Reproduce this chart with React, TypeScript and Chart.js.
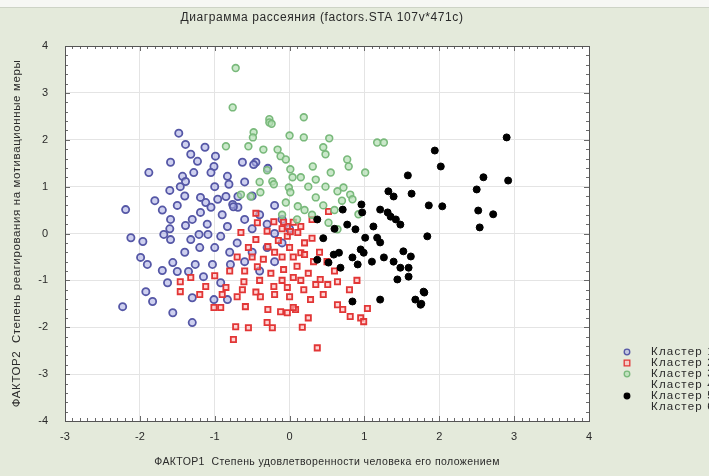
import React, { useEffect, useRef } from "react";
import { Chart, registerables } from "chart.js";

Chart.register(...registerables);

const TITLE = "Диаграмма рассеяния (factors.STA 107v*471c)";
const X_TITLE = "ФАКТОР1  Степень удовлетворенности человека его положением";
const Y_TITLE = "ФАКТОР2  Степень реагирования на мотивационные меры";
const CLUSTER_LABELS = ["Кластер 1", "Кластер 2", "Кластер 3", "Кластер 4", "Кластер 5", "Кластер 6"];
const X_TICKS = [-3, -2, -1, 0, 1, 2, 3, 4];
const Y_TICKS = [-4, -3, -2, -1, 0, 1, 2, 3, 4];

type P = [number, number];

const cluster1: P[] = [
  [-1.48, 2.14], [-1.39, 1.9], [-1.13, 1.84], [-1.32, 1.69], [-1.23, 1.54], [-1.59, 1.52], [-0.99, 1.65],
  [-1.01, 1.43], [-1.05, 1.3], [-1.88, 1.3], [-1.28, 1.3], [-1.43, 1.22], [-1.39, 1.11], [-1.46, 1.0],
  [-0.83, 1.22], [-0.81, 1.05], [-1.6, 0.92], [-0.63, 1.52], [-0.45, 1.52], [-1.19, 0.77], [-1.12, 0.66],
  [-0.96, 0.73], [-1.05, 0.56], [-1.19, 0.45], [-2.19, 0.51], [-1.59, 0.3], [-1.39, 0.17], [-0.69, 0.56],
  [-0.76, 0.62], [-2.12, -0.09], [-1.96, -0.17], [-1.68, -0.02], [-1.59, -0.13], [-1.32, -0.13], [-1.21, -0.02],
  [-1.09, -0.02], [-0.92, -0.06], [-0.83, 0.15], [-1.99, -0.51], [-1.9, -0.66], [-1.7, -0.79], [-1.56, -0.62],
  [-1.5, -0.81], [-1.35, -0.81], [-1.26, -0.66], [-1.15, -0.92], [-1.03, -0.66], [-1.63, -1.05], [-1.92, -1.24],
  [-1.83, -1.45], [-2.23, -1.56], [-1.56, -1.69], [-1.3, -1.37], [-1.3, -1.9], [-0.79, -0.66], [-0.92, -1.05],
  [-0.83, -1.41], [-1.01, -1.41], [-0.48, 1.47], [-0.29, 1.39], [-0.85, 0.79], [-0.69, 0.79], [-0.75, 0.57],
  [-0.6, 0.3], [-0.5, 0.1], [-0.4, 0.4], [-0.3, 0.2], [-0.7, -0.2], [-0.5, -0.4], [-0.3, -0.3], [-0.2, 0.0],
  [-0.1, 0.3], [-0.8, -0.4], [-0.6, -0.6], [-0.4, -0.8], [-0.2, -0.6], [-1.1, 0.2], [-1.3, 0.3], [-1.5, 0.6],
  [-1.7, 0.5], [-1.2, -0.3], [-1.4, -0.4], [-1.0, -0.3], [-0.9, 0.4], [-1.6, 0.1], [-1.8, 0.7], [-1.4, 0.8],
  [-1.0, 1.0], [-0.6, 1.1], [-0.5, 0.8], [-0.2, 0.6], [-0.1, -0.2], [0.0, 0.1],
];

const cluster2: P[] = [
  [0.37, -2.44], [0.17, -2.0], [-0.03, -1.69], [0.08, -1.62], [0.64, -1.52], [0.71, -1.62], [0.81, -1.77],
  [0.95, -1.8], [0.99, -1.88], [1.04, -1.6], [0.64, -1.03], [0.41, -0.98], [0.35, -1.09], [0.19, -1.2],
  [0.28, -1.41], [0.51, -1.09], [0.32, -0.6], [0.05, -0.94], [0.15, -0.41], [-0.08, -0.77], [0.11, 0.02],
  [-0.03, 0.15], [-1.46, -1.03], [-1.46, -1.24], [-1.32, -0.94], [-1.12, -1.13], [-1.01, -1.58], [-0.92, -1.58],
  [-0.85, -1.15], [-0.61, -1.03], [-0.63, -1.2], [-0.59, -1.56], [-0.72, -1.99], [-0.55, -2.01], [-0.75, -2.26],
  [-0.23, -2.01], [-0.39, -1.35], [-0.29, -1.62], [-0.12, -1.67], [-0.43, -0.71], [-0.21, -1.13], [-0.03, -1.15],
  [0.05, -1.58], [-0.45, -0.13], [-0.29, -0.28], [-0.03, -0.06], [-0.65, 0.02], [-0.43, 0.23], [-0.21, 0.25],
  [0.52, 0.47], [-0.08, 0.24], [0.05, 0.24], [0.01, 0.04], [-0.45, 0.43],
  [-0.5, -0.5], [-0.35, -0.55], [-0.2, -0.4], [-0.1, -0.5], [0.0, -0.3], [0.2, -0.2], [0.3, -0.1], [-0.6, -0.8],
  [-0.4, -1.0], [-0.25, -0.85], [-0.1, -1.0], [0.1, -0.7], [0.25, -0.85], [0.4, -0.4], [0.5, -0.6], [-0.7, -0.5],
  [-0.8, -0.8], [-0.55, -0.3], [-0.15, -0.15], [0.05, -0.5], [0.2, -0.45], [-0.3, 0.05], [-0.1, 0.1], [0.15, 0.15],
  [0.3, 0.3], [-1.0, -0.9], [-0.9, -1.3], [-0.7, -1.35], [-0.45, -1.25], [-0.2, -1.3], [0.0, -1.35], [0.15, -1.0],
  [0.6, -0.8], [0.45, -1.3], [0.8, -1.2], [-1.2, -1.3], [-0.3, -1.9], [0.25, -1.8], [0.9, -1.0],
];

const cluster3: P[] = [
  [-0.72, 3.53], [-0.76, 2.69], [-0.27, 2.44], [-0.27, 2.37], [0.19, 2.48], [0.0, 2.09], [0.19, 2.05],
  [0.53, 2.03], [-0.85, 1.86], [-0.55, 1.86], [-0.48, 2.16], [-0.49, 2.05], [-0.35, 1.79], [-0.16, 1.79],
  [-0.12, 1.65], [-0.05, 1.58], [0.45, 1.84], [0.48, 1.69], [0.31, 1.43], [0.77, 1.58], [0.79, 1.43],
  [1.01, 1.3], [0.01, 1.37], [0.04, 1.2], [-0.23, 1.11], [-0.21, 1.05], [-0.01, 0.98], [0.01, 0.88],
  [0.48, 1.0], [0.64, 0.9], [0.72, 0.98], [0.81, 0.83], [0.84, 0.73], [0.35, 0.77], [-0.52, 0.79],
  [-0.39, 0.88], [-0.65, 0.83], [0.11, 0.58], [-0.05, 0.66], [1.17, 1.94], [1.26, 1.94], [0.92, 0.41],
  [0.52, 0.23], [0.64, 0.09], [-0.24, 2.34], [0.2, 0.5], [0.3, 0.4], [0.45, 0.6], [0.6, 0.5], [0.7, 0.7],
  [0.25, 1.0], [0.15, 1.2], [0.55, 1.3], [0.35, 1.15], [-0.3, 1.35], [-0.1, 0.4], [0.1, 0.3], [-0.4, 1.1],
];

const cluster4: P[] = [];

const cluster5: P[] = [
  [2.9, 2.05], [1.94, 1.77], [2.02, 1.43], [2.59, 1.2], [2.92, 1.13], [2.5, 0.94], [1.86, 0.6], [2.04, 0.58],
  [2.52, 0.49], [2.72, 0.41], [2.54, 0.13], [1.84, -0.06], [1.8, -1.26], [1.76, -1.5], [1.58, 1.24], [1.63, 0.85],
  [1.32, 0.9], [1.39, 0.79], [0.96, 0.62], [0.71, 0.51], [0.97, 0.45], [1.21, 0.51], [1.31, 0.45], [1.35, 0.36],
  [1.42, 0.3], [1.48, 0.19], [0.37, 0.3], [0.77, 0.19], [1.12, 0.15], [1.01, -0.09], [1.17, -0.09], [1.21, -0.19],
  [0.59, -0.45], [0.66, -0.41], [0.37, -0.56], [0.52, -0.62], [0.68, -0.73], [0.84, -0.51], [0.91, -0.66],
  [0.95, -0.34], [0.99, -0.41], [1.26, -0.51], [1.39, -0.6], [1.48, -0.73], [1.59, -0.73], [1.59, -0.92],
  [1.44, -0.98], [1.52, -0.38], [1.62, -0.49], [1.79, -1.24], [1.68, -1.41], [1.75, -1.52], [1.21, -1.41],
  [0.84, -1.45], [0.88, 0.09], [0.45, -0.1], [0.6, 0.1], [1.1, -0.6],
];

const cluster6: P[] = [];

const FONT = "'Liberation Sans', Arial, sans-serif";
const PANEL_BG = "#e4eadb";
const TEXT = "#2a2a2a";

const toXY = (pts: P[]) => pts.map(([x, y]) => ({ x, y }));

// Outer panel, plot frame with inward ticks, titles and legend
const decorations = {
  id: "decorations",
  beforeDraw(chart: any) {
    const { ctx, width, height, chartArea } = chart;
    ctx.save();
    ctx.fillStyle = PANEL_BG;
    ctx.fillRect(0, 0, width, height);
    ctx.fillStyle = "#f6f7f4";
    ctx.fillRect(0, 0, width, 7);
    ctx.fillStyle = "#cdd3c6";
    ctx.fillRect(0, 7, width, 1);
    ctx.fillStyle = "#ffffff";
    ctx.fillRect(chartArea.left, chartArea.top, chartArea.right - chartArea.left, chartArea.bottom - chartArea.top);
    ctx.restore();
  },
  beforeDatasetsDraw(chart: any) {
    const { ctx, chartArea, scales } = chart;
    const { left, right, top, bottom } = chartArea;
    ctx.save();
    ctx.strokeStyle = "#6a6a6a";
    ctx.lineWidth = 1;
    ctx.beginPath();
    for (let i = -30; i <= 40; i++) {
      const px = Math.round(scales.x.getPixelForValue(i / 10)) + 0.5;
      const len = i % 10 === 0 ? 5 : 3;
      ctx.moveTo(px, bottom);
      ctx.lineTo(px, bottom - len);
      ctx.moveTo(px, top);
      ctx.lineTo(px, top + len);
    }
    for (let i = -20; i <= 20; i++) {
      const py = Math.round(scales.y.getPixelForValue(i / 5)) + 0.5;
      const len = i % 5 === 0 ? 5 : 3;
      ctx.moveTo(left, py);
      ctx.lineTo(left + len, py);
      ctx.moveTo(right, py);
      ctx.lineTo(right - len, py);
    }
    ctx.stroke();
    ctx.strokeStyle = "#555555";
    ctx.strokeRect(Math.round(left) + 0.5, Math.round(top) + 0.5, Math.round(right - left), Math.round(bottom - top));
    ctx.restore();
  },
  afterDraw(chart: any) {
    const { ctx, chartArea } = chart;
    const cx = (chartArea.left + chartArea.right) / 2;
    const cy = (chartArea.top + chartArea.bottom) / 2;
    ctx.save();
    ctx.fillStyle = TEXT;
    ctx.textBaseline = "middle";
    ctx.textAlign = "center";

    ctx.font = `12px ${FONT}`;
    ctx.letterSpacing = "0.6px";
    ctx.fillText(TITLE, 322, 18);

    ctx.font = `10.5px ${FONT}`;
    ctx.letterSpacing = "0.4px";
    ctx.fillText(X_TITLE, cx, 462);

    ctx.save();
    ctx.translate(17, cy);
    ctx.rotate(-Math.PI / 2);
    ctx.font = `11.5px ${FONT}`;
    ctx.letterSpacing = "0.6px";
    ctx.fillText(Y_TITLE, 0, 0);
    ctx.restore();

    // legend
    ctx.textAlign = "left";
    ctx.font = `11.5px ${FONT}`;
    ctx.letterSpacing = "1.2px";
    const x0 = 627;
    const y0 = 352;
    chart.data.datasets.forEach((ds: any, i: number) => {
      const y = y0 + i * 11;
      const r = 2.8;
      if (ds.data.length) {
        ctx.lineWidth = 1.3;
        ctx.strokeStyle = ds.borderColor;
        ctx.fillStyle = ds.backgroundColor;
        ctx.beginPath();
        if (ds.pointStyle === "rect") {
          ctx.rect(x0 - r, y - r, r * 2, r * 2);
        } else {
          ctx.arc(x0, y, r, 0, Math.PI * 2);
        }
        ctx.fill();
        ctx.stroke();
      }
      ctx.fillStyle = TEXT;
      ctx.fillText(ds.label, 651, y);
    });
    ctx.restore();
  },
};

export default function App() {
  const canvasRef = useRef<HTMLCanvasElement | null>(null);

  useEffect(() => {
    if (!canvasRef.current) return;
    const chart = new Chart(canvasRef.current, {
      type: "scatter",
      data: {
        datasets: [
          {
            label: CLUSTER_LABELS[0],
            data: toXY(cluster1),
            pointStyle: "circle",
            pointRadius: 3.6,
            borderWidth: 1.8,
            borderColor: "#5557a6",
            backgroundColor: "rgba(165,170,225,0.55)",
            order: 5,
          },
          {
            label: CLUSTER_LABELS[1],
            data: toXY(cluster2),
            pointStyle: "rect",
            pointRadius: 3.7,
            borderWidth: 1.8,
            borderColor: "#e23636",
            backgroundColor: "rgba(255,185,185,0.6)",
            order: 4,
          },
          {
            label: CLUSTER_LABELS[2],
            data: toXY(cluster3),
            pointStyle: "circle",
            pointRadius: 3.4,
            borderWidth: 1.6,
            borderColor: "#79b97b",
            backgroundColor: "rgba(180,222,180,0.7)",
            order: 3,
          },
          {
            label: CLUSTER_LABELS[3],
            data: toXY(cluster4),
            pointRadius: 0,
            borderColor: "#ffffff",
            backgroundColor: "#ffffff",
            order: 2,
          },
          {
            label: CLUSTER_LABELS[4],
            data: toXY(cluster5),
            pointStyle: "circle",
            pointRadius: 3.5,
            borderWidth: 1,
            borderColor: "#000000",
            backgroundColor: "#000000",
            order: 1,
          },
          {
            label: CLUSTER_LABELS[5],
            data: toXY(cluster6),
            pointRadius: 0,
            borderColor: "#ffffff",
            backgroundColor: "#ffffff",
            order: 0,
          },
        ],
      },
      options: {
        responsive: false,
        animation: false,
        layout: { padding: { top: 46, right: 120, left: 0, bottom: 0 } },
        plugins: {
          legend: { display: false },
          title: { display: false },
          tooltip: { enabled: false },
        },
        scales: {
          x: {
            type: "linear",
            min: -3,
            max: 4,
            afterBuildTicks: (scale: any) => {
              scale.ticks = X_TICKS.map((v) => ({ value: v }));
            },
            afterFit: (scale: any) => {
              scale.height = 55;
            },
            grid: { color: "#e4e4e4", lineWidth: 1, drawTicks: false },
            border: { display: false },
            ticks: {
              padding: 9,
              color: TEXT,
              font: { family: FONT, size: 11 },
            },
          },
          y: {
            type: "linear",
            min: -4,
            max: 4,
            afterBuildTicks: (scale: any) => {
              scale.ticks = Y_TICKS.map((v) => ({ value: v }));
            },
            afterFit: (scale: any) => {
              scale.width = 65;
            },
            grid: { color: "#e4e4e4", lineWidth: 1, drawTicks: false },
            border: { display: false },
            ticks: {
              padding: 17,
              color: TEXT,
              font: { family: FONT, size: 11 },
            },
          },
        },
      },
      plugins: [decorations],
    });
    return () => chart.destroy();
  }, []);

  return (
    <div style={{ position: "absolute", left: 0, top: 0, width: 709, height: 476, overflow: "hidden" }}>
      <canvas ref={canvasRef} width={709} height={476} style={{ display: "block", width: 709, height: 476 }} />
    </div>
  );
}
